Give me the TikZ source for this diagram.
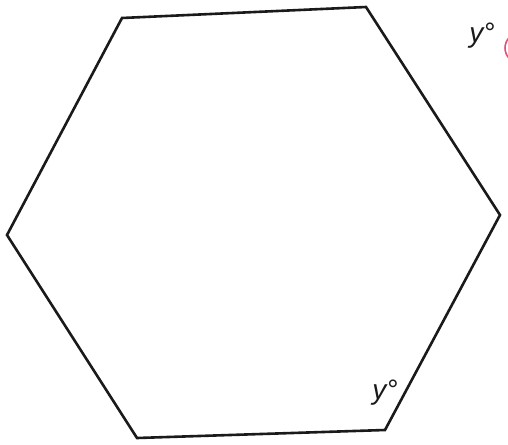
\documentclass[tikz,border=0pt]{standalone}
\usepackage{fontspec}
\setmainfont{Liberation Sans}
\usetikzlibrary{positioning}
\definecolor{ink}{HTML}{1A1A1A}
\definecolor{mark}{HTML}{E0507A}
\tikzset{
  every node/.style={text=ink},
  side/.style={draw=ink,line width=2.6pt,line join=miter},
  anglelabel/.style={font=\fontsize{28}{28}\selectfont\itshape,inner sep=0pt},
  circled/.style={draw=mark,line width=1.6pt},
}
\begin{document}
\begin{tikzpicture}[x=1pt,y=-1pt]
\clip (0,0) rectangle (508,444);
\useasboundingbox (0,0) rectangle (508,444);
% corners of the hexagon
\coordinate (tl) at (122,18);
\coordinate (tr) at (366,7);
\coordinate (r) at (500,215);
\coordinate (br) at (385,430);
\coordinate (bl) at (137,438);
\coordinate (l) at (7,235);
\draw[side] (tl) -- (tr) -- (r) -- (br) -- (bl) -- (l) -- cycle;
% angle labels
\node[anglelabel] (ytop) at (482,36) {y°};
\node[anglelabel] (ybot) at (385,393) {y°};
\draw[circled] (520,48) circle (15);
\end{tikzpicture}
\end{document}
